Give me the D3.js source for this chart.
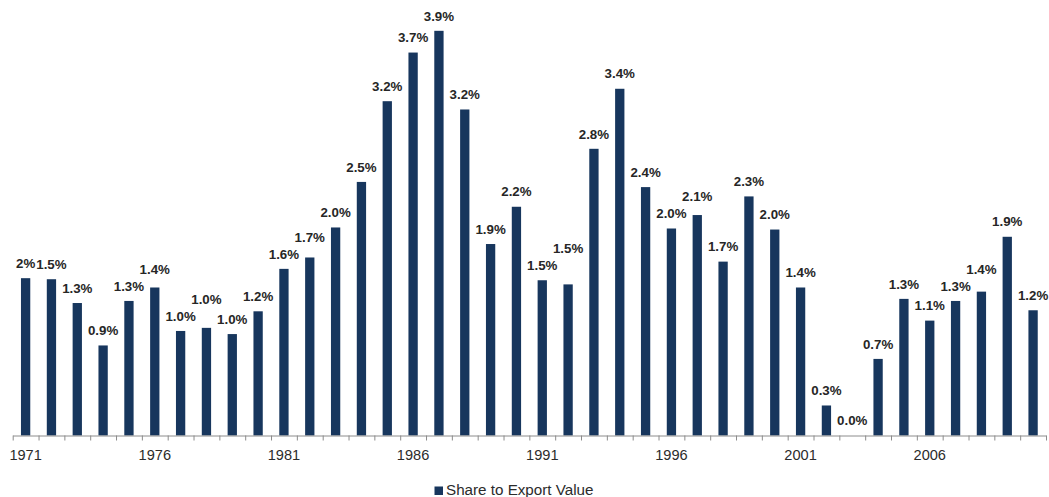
<!DOCTYPE html>
<html>
<head>
<meta charset="utf-8">
<script src="https://cdn.jsdelivr.net/npm/d3@7"></script>
<style>
  html, body { margin: 0; padding: 0; background: #fff; }
  body { width: 1049px; height: 497px; overflow: hidden; }
  text { font-family: Arial, "Liberation Sans", sans-serif; }
</style>
</head>
<body>
<script>
// data
var years = [1971, 1972, 1973, 1974, 1975, 1976, 1977, 1978, 1979, 1980,
    1981, 1982, 1983, 1984, 1985, 1986, 1987, 1988, 1989, 1990,
    1991, 1992, 1993, 1994, 1995, 1996, 1997, 1998, 1999, 2000,
    2001, 2002, 2003, 2004, 2005, 2006, 2007, 2008, 2009, 2010];

var shareValues = [1.52, 1.51, 1.28, 0.87, 1.30, 1.43, 1.01, 1.04, 0.98, 1.20,
    1.61, 1.72, 2.01, 2.45, 3.23, 3.70, 3.91, 3.15, 1.85, 2.21,
    1.50, 1.46, 2.77, 3.35, 2.40, 2.00, 2.13, 1.68, 2.31, 1.99,
    1.43, 0.29, 0.00, 0.74, 1.32, 1.11, 1.30, 1.39, 1.92, 1.21];

var shareLabels = ["2%", "1.5%", "1.3%", "0.9%", "1.3%", "1.4%", "1.0%", "1.0%", "1.0%", "1.2%",
    "1.6%", "1.7%", "2.0%", "2.5%", "3.2%", "3.7%", "3.9%", "3.2%", "1.9%", "2.2%",
    "1.5%", "1.5%", "2.8%", "3.4%", "2.4%", "2.0%", "2.1%", "1.7%", "2.3%", "2.0%",
    "1.4%", "0.3%", "0.0%", "0.7%", "1.3%", "1.1%", "1.3%", "1.4%", "1.9%", "1.2%"];

var tickYears = [1971, 1976, 1981, 1986, 1991, 1996, 2001, 2006];

var seriesName = "Share to Export Value";

// dimensions
var width = 1049;
var height = 497;
var plotLeft = 12.7, plotRight = 1046;
var baseline = 435.5, plotTop = 21.5;

var svg = d3.select("body")
    .append("svg")
    .attr("width", width)
    .attr("height", height);

var x = d3.scaleBand()
    .domain(years)
    .range([plotLeft, plotRight])
    .paddingInner(0.64)
    .paddingOuter(0.32);

var y = d3.scaleLinear()
    .domain([0, 4])
    .range([baseline, plotTop]);

// bars
svg.append("g")
    .selectAll("rect")
    .data(years)
    .enter()
    .append("rect")
    .attr("x", function(d) { return x(d); })
    .attr("width", x.bandwidth())
    .attr("y", function(d, i) { return y(shareValues[i]); })
    .attr("height", function(d, i) { return baseline - y(shareValues[i]); })
    .attr("fill", "#17365d");

// ticks at category boundaries
var edges = d3.scaleLinear().domain([0, years.length]).range([plotLeft, plotRight]);
svg.append("g")
    .attr("transform", "translate(0," + baseline + ")")
    .call(d3.axisBottom(edges)
        .tickValues(d3.range(0, years.length + 1))
        .tickFormat("")
        .tickSize(5)
        .tickSizeOuter(0))
    .call(function(g) {
        g.selectAll("line").attr("stroke", "#8c8c8c");
        g.select(".domain").attr("stroke", "#8c8c8c");
    });

// year labels
svg.append("g")
    .attr("transform", "translate(0," + baseline + ")")
    .call(d3.axisBottom(x).tickValues(tickYears).tickSize(0).tickPadding(14))
    .call(function(g) {
        g.select(".domain").remove();
        g.selectAll("text")
            .attr("font-size", "14.6px")
            .attr("font-family", "Arial, 'Liberation Sans', sans-serif")
            .attr("fill", "#2b2b2b");
    });

// value labels, lifted when they run into the one before
var placed = [];
var labelG = svg.append("g");
years.forEach(function(d, i) {
    var cx = x(d) + x.bandwidth() / 2;
    var by = y(shareValues[i]) - 10.3;
    var t = labelG.append("text")
        .attr("x", cx)
        .attr("y", by)
        .attr("text-anchor", "middle")
        .attr("font-size", "13.3px")
        .attr("font-weight", "bold")
        .attr("fill", "#262626")
        .text(shareLabels[i]);
    var b = t.node().getBBox();
    var prev = placed[placed.length - 1];
    if (prev && b.x < prev.x + prev.width && b.y < prev.y + prev.height && b.y + b.height > prev.y) {
        by = prev.y - 2 - (b.height - (by - b.y));
        t.attr("y", by);
        b = t.node().getBBox();
    }
    placed.push(b);
});

// legend
var legend = svg.append("g");
legend.append("rect")
    .attr("x", 434.5)
    .attr("y", 486.5)
    .attr("width", 8.5)
    .attr("height", 8.5)
    .attr("fill", "#17365d");
legend.append("text")
    .attr("x", 446)
    .attr("y", 495)
    .attr("font-size", "15.2px")
    .attr("fill", "#2b2b2b")
    .text(seriesName);
</script>
</body>
</html>
